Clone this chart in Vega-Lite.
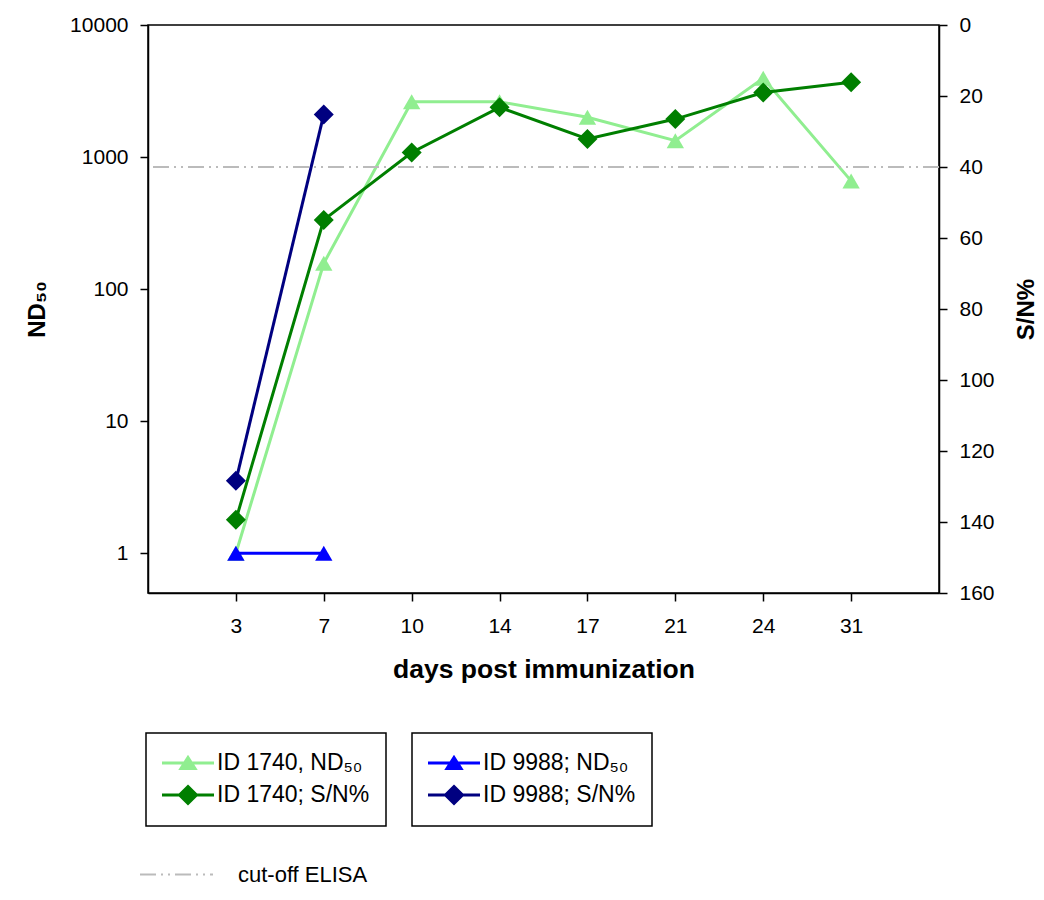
{
  "$schema": "https://vega.github.io/schema/vega-lite/v6.json",
  "width": 791,
  "height": 568,
  "autosize": {"type": "none"},
  "padding": {"left": 148, "top": 25, "right": 105, "bottom": 307},
  "background": "white",
  "config": {
    "font": "Liberation Sans",
    "view": {"stroke": "black", "strokeWidth": 1.5},
    "axis": {
      "grid": false,
      "domainColor": "black",
      "domainWidth": 1.5,
      "tickColor": "black",
      "tickWidth": 1.5,
      "tickSize": 8,
      "labelFont": "Liberation Sans",
      "labelFontSize": 21,
      "labelColor": "black",
      "titleFont": "Liberation Sans",
      "titleFontSize": 24,
      "titleFontWeight": "bold",
      "titleColor": "black"
    },
    "legend": {"labelFont": "Liberation Sans", "labelColor": "black", "labelLimit": 400}
  },
  "datasets": {
    "nd1740": [
      {"day": 3, "series": "ID 1740, ND₅₀", "value": 1},
      {"day": 7, "series": "ID 1740, ND₅₀", "value": 157},
      {"day": 10, "series": "ID 1740, ND₅₀", "value": 2620},
      {"day": 14, "series": "ID 1740, ND₅₀", "value": 2620},
      {"day": 17, "series": "ID 1740, ND₅₀", "value": 2000},
      {"day": 21, "series": "ID 1740, ND₅₀", "value": 1330},
      {"day": 24, "series": "ID 1740, ND₅₀", "value": 3950},
      {"day": 31, "series": "ID 1740, ND₅₀", "value": 660}
    ],
    "sn1740": [
      {"day": 3, "series": "ID 1740; S/N%", "value": 139.4},
      {"day": 7, "series": "ID 1740; S/N%", "value": 54.9},
      {"day": 10, "series": "ID 1740; S/N%", "value": 35.9},
      {"day": 14, "series": "ID 1740; S/N%", "value": 23.2},
      {"day": 17, "series": "ID 1740; S/N%", "value": 32.1},
      {"day": 21, "series": "ID 1740; S/N%", "value": 26.5},
      {"day": 24, "series": "ID 1740; S/N%", "value": 19.0},
      {"day": 31, "series": "ID 1740; S/N%", "value": 16.1}
    ],
    "nd9988": [
      {"day": 3, "series": "ID 9988; ND₅₀", "value": 1},
      {"day": 7, "series": "ID 9988; ND₅₀", "value": 1}
    ],
    "sn9988": [
      {"day": 3, "series": "ID 9988; S/N%", "value": 128.4},
      {"day": 7, "series": "ID 9988; S/N%", "value": 25.2}
    ],
    "cutoff": [
      {"label": "cut-off ELISA", "value": 40}
    ]
  },
  "layer": [
    {
      "encoding": {
        "y": {
          "field": "value",
          "type": "quantitative",
          "scale": {"type": "log", "domain": [0.5, 10000], "nice": false},
          "axis": {
            "orient": "left",
            "values": [1, 10, 100, 1000, 10000],
            "format": "d",
            "title": "ND₅₀",
            "titleFontSize": 24,
            "labelAlign": "right",
            "labelPadding": 12,
            "titlePadding": 20
          }
        }
      },
      "layer": [
        {
          "data": {"name": "nd1740"},
          "mark": {"type": "line", "strokeWidth": 3},
          "encoding": {
            "x": {
              "field": "day",
              "type": "ordinal",
              "scale": {"type": "point", "padding": 1},
              "axis": {"title": "days post immunization", "labelAngle": 0, "labelPadding": 14, "titlePadding": 20, "titleFontSize": 26.5}
            },
            "color": {
              "field": "series",
              "type": "nominal",
              "scale": {"domain": ["ID 1740, ND₅₀", "ID 1740; S/N%"], "range": ["#90EE90", "#007F00"]},
              "legend": {
                "orient": "none",
                "legendX": -2,
                "legendY": 708,
                "title": null,
                "direction": "vertical",
                "padding": 16,
                "rowPadding": 5,
                "symbolSize": 625,
                "symbolStrokeWidth": 3,
                "symbolOffset": 12,
                "labelOffset": 15,
                "labelFontSize": 23,
                "strokeColor": "black",
                "fillColor": "white",
                "encode": {
                  "symbols": {
                    "update": {
                      "shape": {"signal": "indexof(datum.value,'ND')>=0 ? 'M-2.08,0H2.08M0,-0.44L0.56,0.44L-0.56,0.44Z' : 'M-2.08,0H2.08M0,-0.68L0.68,0L0,0.68L-0.68,0Z'"},
                      "fill": {"signal": "scale('color', datum.value)"},
                      "stroke": {"signal": "scale('color', datum.value)"},
                      "strokeWidth": {"value": 3},
                      "opacity": {"value": 1}
                    }
                  },
                  "legend": {"update": {"strokeWidth": {"value": 1.5}}}
                }
              }
            }
          }
        },
        {
          "data": {"name": "nd1740"},
          "mark": {"type": "point", "shape": "triangle-up", "size": 300, "filled": true, "opacity": 1},
          "encoding": {
            "x": {"field": "day", "type": "ordinal", "scale": {"type": "point", "padding": 1}},
            "color": {"field": "series", "type": "nominal"}
          }
        },
        {
          "data": {"name": "nd9988"},
          "mark": {"type": "line", "strokeWidth": 3},
          "encoding": {
            "x": {"field": "day", "type": "ordinal", "scale": {"type": "point", "padding": 1}},
            "stroke": {
              "field": "series",
              "type": "nominal",
              "scale": {"domain": ["ID 9988; ND₅₀", "ID 9988; S/N%"], "range": ["#0000FF", "#000080"]},
              "legend": {
                "orient": "none",
                "legendX": 264,
                "legendY": 708,
                "title": null,
                "direction": "vertical",
                "padding": 16,
                "rowPadding": 5,
                "symbolSize": 625,
                "symbolStrokeWidth": 3,
                "symbolOffset": 12,
                "labelOffset": 15,
                "labelFontSize": 23,
                "strokeColor": "black",
                "fillColor": "white",
                "encode": {
                  "symbols": {
                    "update": {
                      "shape": {"signal": "indexof(datum.value,'ND')>=0 ? 'M-2.08,0H2.08M0,-0.44L0.56,0.44L-0.56,0.44Z' : 'M-2.08,0H2.08M0,-0.68L0.68,0L0,0.68L-0.68,0Z'"},
                      "fill": {"signal": "scale('stroke', datum.value)"},
                      "stroke": {"signal": "scale('stroke', datum.value)"},
                      "strokeWidth": {"value": 3},
                      "opacity": {"value": 1}
                    }
                  },
                  "legend": {"update": {"strokeWidth": {"value": 1.5}}}
                }
              }
            }
          }
        },
        {
          "data": {"name": "nd9988"},
          "mark": {"type": "point", "shape": "triangle-up", "size": 300, "filled": true, "opacity": 1},
          "encoding": {
            "x": {"field": "day", "type": "ordinal", "scale": {"type": "point", "padding": 1}},
            "fill": {
              "field": "series",
              "type": "nominal",
              "scale": {"domain": ["ID 9988; ND₅₀", "ID 9988; S/N%"], "range": ["#0000FF", "#000080"]},
              "legend": null
            }
          }
        }
      ]
    },
    {
      "encoding": {
        "y": {
          "field": "value",
          "type": "quantitative",
          "scale": {"domain": [0, 160], "reverse": true, "nice": false},
          "axis": {
            "orient": "right",
            "values": [0, 20, 40, 60, 80, 100, 120, 140, 160],
            "title": "S/N%",
            "titleFontSize": 24,
            "titleAngle": 270,
            "titleBaseline": "top",
            "labelAlign": "left",
            "labelPadding": 12,
            "titlePadding": 20
          }
        }
      },
      "layer": [
        {
          "data": {"name": "cutoff"},
          "mark": {"type": "rule", "color": "#BBBBBB", "strokeWidth": 2},
          "encoding": {
            "strokeDash": {
              "field": "label",
              "type": "nominal",
              "scale": {"domain": ["cut-off ELISA"], "range": [[16, 5, 2, 5, 2, 5]]},
              "legend": {
                "orient": "none",
                "legendX": -8,
                "legendY": 836,
                "title": null,
                "padding": 0,
                "symbolType": "M-2.92,0H2.92",
                "symbolSize": 625,
                "symbolStrokeWidth": 2,
                "symbolOffset": 23,
                "labelOffset": 48,
                "labelFontSize": 22,
                "encode": {
                  "symbols": {
                    "update": {
                      "shape": {"signal": "'M-2.92,0H2.92'"},
                      "stroke": {"value": "#BBBBBB"},
                      "strokeWidth": {"value": 2},
                      "strokeDash": {"value": [16, 5, 2, 5, 2, 5]},
                      "fill": {"value": "transparent"},
                      "opacity": {"value": 1}
                    }
                  }
                }
              }
            }
          }
        },
        {
          "data": {"name": "sn1740"},
          "mark": {"type": "line", "strokeWidth": 3},
          "encoding": {
            "x": {"field": "day", "type": "ordinal", "scale": {"type": "point", "padding": 1}},
            "color": {"field": "series", "type": "nominal"}
          }
        },
        {
          "data": {"name": "sn1740"},
          "mark": {"type": "point", "shape": "diamond", "size": 400, "filled": true, "opacity": 1},
          "encoding": {
            "x": {"field": "day", "type": "ordinal", "scale": {"type": "point", "padding": 1}},
            "color": {"field": "series", "type": "nominal"}
          }
        },
        {
          "data": {"name": "sn9988"},
          "mark": {"type": "line", "strokeWidth": 3},
          "encoding": {
            "x": {"field": "day", "type": "ordinal", "scale": {"type": "point", "padding": 1}},
            "stroke": {"field": "series", "type": "nominal"}
          }
        },
        {
          "data": {"name": "sn9988"},
          "mark": {"type": "point", "shape": "diamond", "size": 400, "filled": true, "opacity": 1},
          "encoding": {
            "x": {"field": "day", "type": "ordinal", "scale": {"type": "point", "padding": 1}},
            "fill": {"field": "series", "type": "nominal", "legend": null}
          }
        }
      ]
    }
  ],
  "resolve": {"scale": {"y": "independent"}}
}
